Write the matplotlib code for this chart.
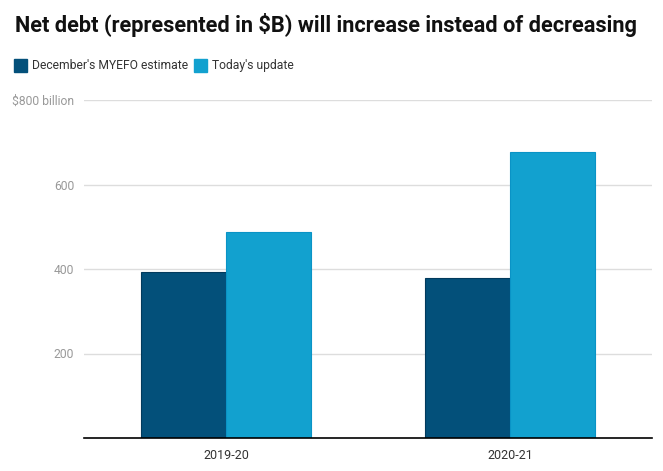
import matplotlib.pyplot as plt
import numpy as np
from matplotlib.patches import Rectangle

plt.rcParams['font.family'] = ['Roboto', 'DejaVu Sans']

# Data
years = ["2019-20", "2020-21"]
myefo = [393, 379]
update = [488, 677]
series_names = ["December's MYEFO estimate", "Today's update"]
yticks = [200, 400, 600, 800]
ytick_labels = ["200", "400", "600", "$800 billion"]

dark = "#03507A"
light = "#12A1CF"

fig = plt.figure(figsize=(6.63, 4.71), dpi=100)
ax = fig.add_axes([84 / 663, 33 / 471, 568 / 663, 338 / 471])

x = np.arange(len(years))
w = 0.3
ax.bar(x - w / 2, myefo, w, color=dark, edgecolor="#023a5c", linewidth=0.8, zorder=3)
ax.bar(x + w / 2, update, w, color=light, edgecolor="#0a93c6", linewidth=0.8, zorder=3)

ax.set_xlim(-0.5, 1.5)
ax.set_ylim(0, 800)
ax.set_xticks(x)
ax.set_xticklabels(years, fontsize=9, color="#333333")
ax.set_yticks(yticks)
ax.set_yticklabels(ytick_labels, fontsize=8.7, color="#999999")
ax.tick_params(axis="both", length=0)
ax.tick_params(axis="y", pad=7)
ax.tick_params(axis="x", pad=8)
ax.grid(axis="y", color="#dddddd", linewidth=1, zorder=0)
for s in ["top", "right", "left"]:
    ax.spines[s].set_visible(False)
ax.spines["bottom"].set_color("black")
ax.spines["bottom"].set_linewidth(1.2)
ax.spines["bottom"].set_zorder(4)

fig.text(15 / 663, 1 - 25 / 471, "Net debt (represented in $B) will increase instead of decreasing",
         fontsize=15.7, fontweight="bold", color="#111111", va="center", ha="left")

# legend
legend_x = [14, 194]
for lx, name, col in zip(legend_x, series_names, [dark, light]):
    fig.patches.append(Rectangle((lx / 663, 1 - 72 / 471), 13 / 663, 13 / 471,
                                 transform=fig.transFigure, color=col))
    fig.text((lx + 18) / 663, 1 - 65.5 / 471, name, fontsize=8.7, color="#333333",
             va="center", ha="left")

fig.savefig("out.png", dpi=100)
